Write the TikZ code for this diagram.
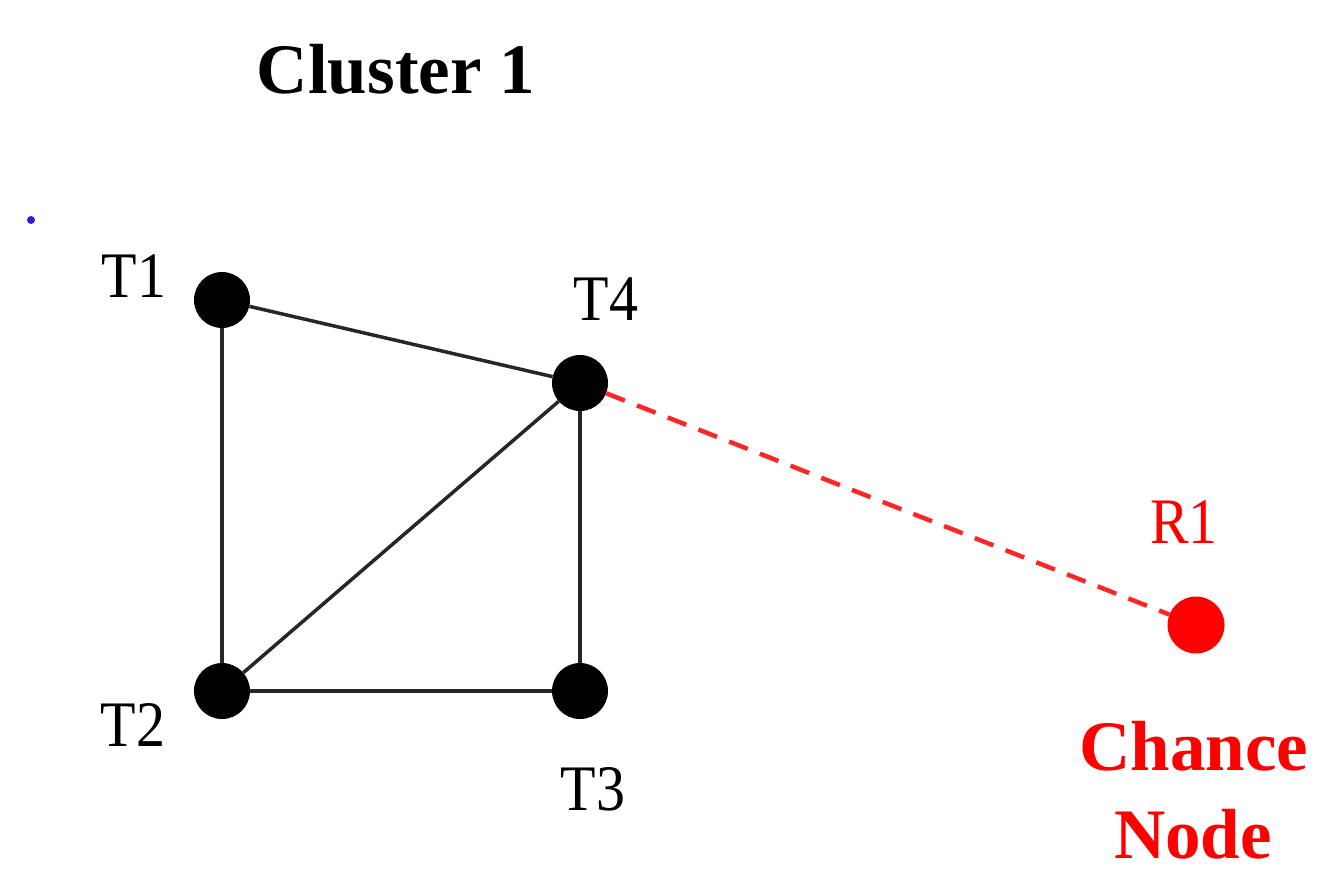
\documentclass[tikz,border=0pt]{standalone}
\usepackage{fontspec}
\setmainfont{Liberation Serif}
\tikzset{
  tnode/.style={circle,fill=black,inner sep=0pt,minimum size=56pt},
  rnode/.style={circle,fill=red,inner sep=0pt,minimum size=57pt},
  tlabel/.style={anchor=base,inner sep=0pt,font=\fontsize{58}{70}\selectfont},
  blabel/.style={anchor=base,inner sep=0pt,font=\fontsize{71}{85}\selectfont\bfseries},
  edge/.style={line width=3.5pt,draw=black!85},
  redge/.style={line width=4.5pt,draw=red!85,dash pattern=on 20pt off 13pt}
}
\newcommand{\tallbox}[1]{\scalebox{1}[1.12]{#1}}
\begin{document}
\begin{tikzpicture}[x=1pt,y=-1pt]
\useasboundingbox (0,0) rectangle (1336,895);
\fill[white] (0,0) rectangle (1336,895);
% nodes
\node[tnode] (t1) at (222,300) {};
\node[tnode] (t4) at (580,383) {};
\node[tnode] (t2) at (222,691) {};
\node[tnode] (t3) at (580,691) {};
\node[rnode] (r1) at (1196,625) {};
\node[circle,fill={rgb,255:red,60;green,20;blue,230},inner sep=0pt,minimum size=8pt] (dot) at (31,220) {};
% edges
\draw[edge] (t1) -- (t4);
\draw[edge] (t1) -- (t2);
\draw[edge] (t2) -- (t4);
\draw[edge] (t4) -- (t3);
\draw[edge] (t2) -- (t3);
\draw[redge] (t4) -- (r1);
% labels
\node[blabel] (cluster) at (396,93) {Cluster 1};
\node[tlabel] (l1) at (134,297) {\tallbox{T1}};
\node[tlabel] (l4) at (606,320) {\tallbox{T4}};
\node[tlabel] (l2) at (133,746) {\tallbox{T2}};
\node[tlabel] (l3) at (593,810) {\tallbox{T3}};
\node[tlabel,text=red] (lr1) at (1184,543) {\tallbox{R1}};
\node[blabel,text=red] (chance) at (1194,770) {Chance};
\node[blabel,text=red] (nodetxt) at (1193,858) {Node};
\end{tikzpicture}
\end{document}
